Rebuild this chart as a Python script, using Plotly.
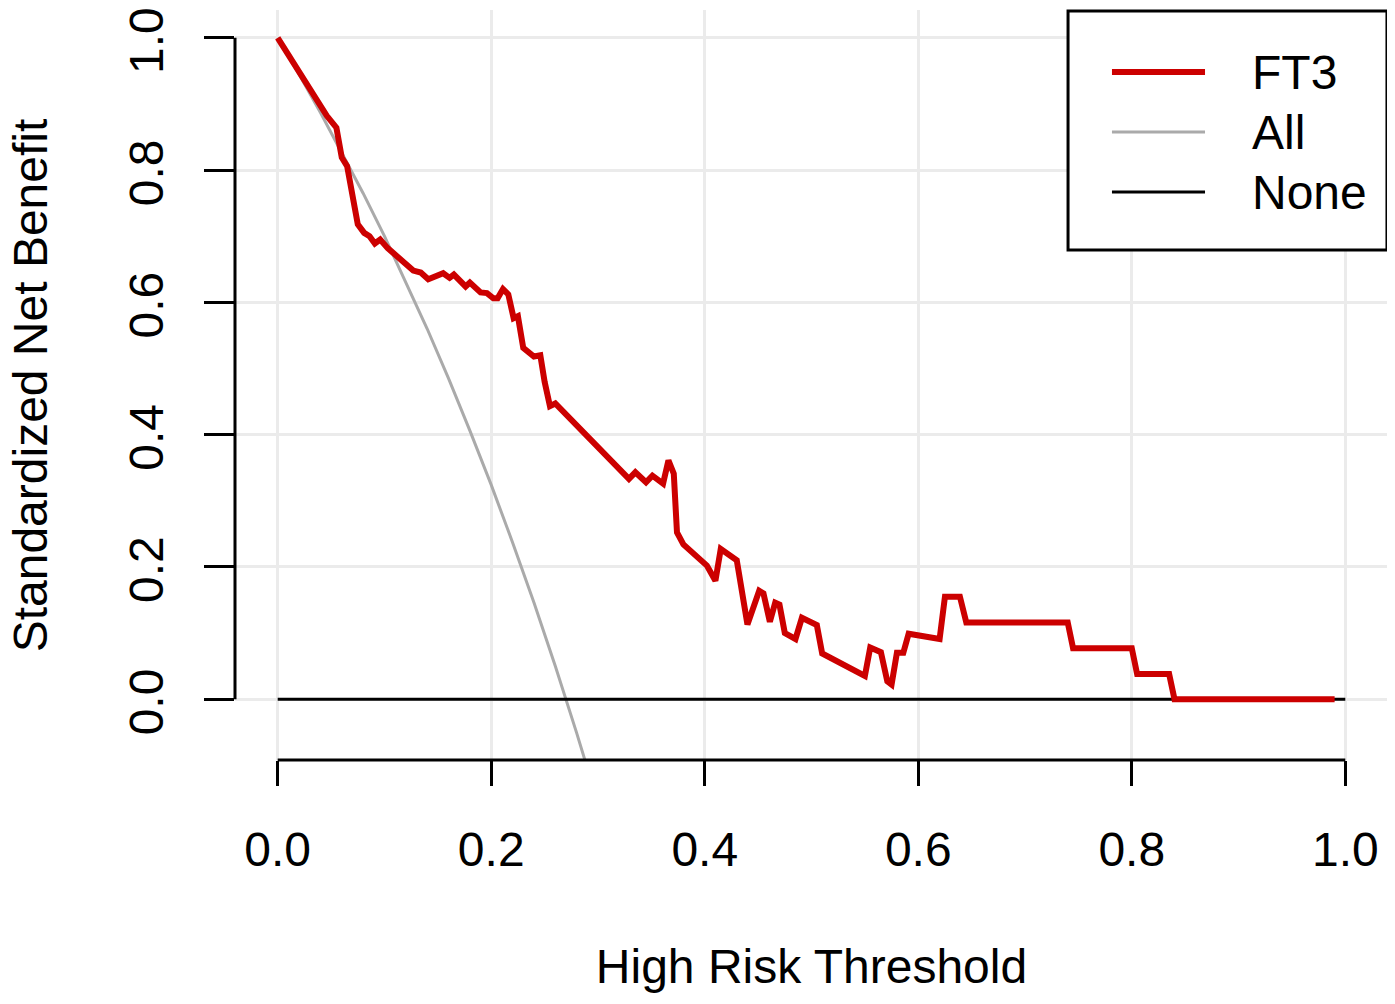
import plotly.graph_objects as go

# Decision curve: standardized net benefit vs high risk threshold
ft3_threshold = [
    0.000, 0.028, 0.036, 0.046, 0.055, 0.060, 0.065, 0.075, 0.081, 0.086,
    0.091, 0.096, 0.103, 0.118, 0.127, 0.134, 0.141, 0.155, 0.161, 0.165,
    0.176, 0.180, 0.190, 0.196, 0.202, 0.206, 0.211, 0.216, 0.221, 0.225,
    0.230, 0.240, 0.246, 0.250, 0.255, 0.260, 0.329, 0.335, 0.345, 0.351,
    0.361, 0.366, 0.371, 0.374, 0.380, 0.402, 0.405, 0.410, 0.415, 0.430,
    0.440, 0.451, 0.455, 0.461, 0.466, 0.470, 0.475, 0.485, 0.491, 0.505,
    0.510, 0.550, 0.555, 0.565, 0.571, 0.575, 0.580, 0.586, 0.591, 0.620,
    0.625, 0.639, 0.645, 0.740, 0.745, 0.800, 0.805, 0.835, 0.840, 0.990,
]
ft3_snb = [
    1.000, 0.930, 0.910, 0.882, 0.864, 0.819, 0.806, 0.718, 0.705, 0.700,
    0.689, 0.695, 0.682, 0.662, 0.648, 0.645, 0.635, 0.644, 0.637, 0.642,
    0.624, 0.630, 0.615, 0.614, 0.606, 0.606, 0.620, 0.612, 0.576, 0.579,
    0.531, 0.518, 0.520, 0.480, 0.443, 0.447, 0.333, 0.343, 0.328, 0.338,
    0.326, 0.361, 0.341, 0.252, 0.234, 0.202, 0.194, 0.179, 0.227, 0.210,
    0.113, 0.164, 0.160, 0.117, 0.146, 0.143, 0.100, 0.091, 0.123, 0.112,
    0.069, 0.035, 0.078, 0.071, 0.027, 0.022, 0.070, 0.070, 0.099, 0.091,
    0.155, 0.155, 0.116, 0.116, 0.077, 0.077, 0.038, 0.038, 0.000, 0.000,
]

all_threshold = [0.00, 0.02, 0.04, 0.06, 0.08, 0.10, 0.12, 0.14, 0.16,
                 0.18, 0.20, 0.22, 0.24, 0.26, 0.28, 0.29]
all_snb = [1.000, 0.945, 0.887, 0.827, 0.765, 0.700, 0.631, 0.560, 0.485,
           0.406, 0.324, 0.237, 0.146, 0.050, -0.051, -0.104]

none_threshold = [0.0, 1.0]
none_snb = [0.0, 0.0]

tick_vals = [0.0, 0.2, 0.4, 0.6, 0.8, 1.0]
tick_text = ["0.0", "0.2", "0.4", "0.6", "0.8", "1.0"]

FONT = "Liberation Sans, Arial, sans-serif"
RED = "#CC0000"
GREY = "#AAAAAA"

fig = go.Figure()

fig.add_trace(go.Scatter(
    x=all_threshold, y=all_snb, mode="lines", name="All",
    line=dict(color=GREY, width=3), showlegend=False,
))
fig.add_trace(go.Scatter(
    x=none_threshold, y=none_snb, mode="lines", name="None",
    line=dict(color="black", width=3), showlegend=False,
))
fig.add_trace(go.Scatter(
    x=ft3_threshold, y=ft3_snb, mode="lines", name="FT3",
    line=dict(color=RED, width=6), showlegend=False,
))

# R-style axis lines that only span the first to last tick
fig.add_shape(type="line", xref="x", yref="paper", x0=0, x1=1, y0=0, y1=0,
              line=dict(color="black", width=3))
fig.add_shape(type="line", xref="paper", yref="y", x0=0, x1=0, y0=0, y1=1,
              line=dict(color="black", width=3))

# Base-R style legend box (long line samples, padded box)
legend_items = [("FT3", RED, 6), ("All", GREY, 3), ("None", "black", 3)]
fig.add_shape(type="rect", xref="paper", yref="paper",
              x0=0.7225, x1=0.9991, y0=0.680, y1=0.9987,
              line=dict(color="black", width=3), fillcolor="white", layer="above")
for i, (label, color, width) in enumerate(legend_items):
    ypos = 0.9173 - 0.08 * i
    fig.add_shape(type="line", xref="paper", yref="paper",
                  x0=0.7606, x1=0.8413, y0=ypos, y1=ypos,
                  line=dict(color=color, width=width), layer="above")
    fig.add_annotation(xref="paper", yref="paper", x=0.8803, y=ypos,
                       text=label, showarrow=False, xanchor="left",
                       yanchor="middle", font=dict(size=48))

# y title as a rotated annotation (axis title gets clamped inside the margin)
fig.add_annotation(xref="paper", yref="paper", x=-0.1775, y=0.5,
                   text="Standardized Net Benefit", textangle=-90,
                   showarrow=False, xanchor="center", yanchor="middle",
                   font=dict(size=48))

# page body has an 8px margin, so the figure is sized to fit the window
fig.update_layout(
    width=1387,
    height=996,
    margin=dict(l=227, r=7, t=2, b=244),
    plot_bgcolor="white",
    paper_bgcolor="white",
    font=dict(family=FONT, size=48, color="black"),
    xaxis=dict(
        range=[-0.04, 1.04], tickvals=tick_vals, ticktext=tick_text,
        ticks="outside", ticklen=25, tickwidth=3, tickcolor="black",
        ticklabelstandoff=22, automargin=False,
        showline=False, zeroline=False,
        showgrid=True, gridcolor="#EBEBEB", gridwidth=2.5,
        title=dict(text="High Risk Threshold", standoff=74, font=dict(size=48)),
    ),
    yaxis=dict(
        range=[-0.092, 1.042], tickvals=tick_vals, ticktext=tick_text,
        ticks="outside", ticklen=30, tickwidth=3, tickcolor="black",
        tickangle=-90, ticklabelstandoff=22, ticklabelshift=10,
        automargin=False, ticklabeloverflow="allow",
        showline=False, zeroline=False,
        showgrid=True, gridcolor="#EBEBEB", gridwidth=2.5,
    ),
)

fig.write_html("out.html")
